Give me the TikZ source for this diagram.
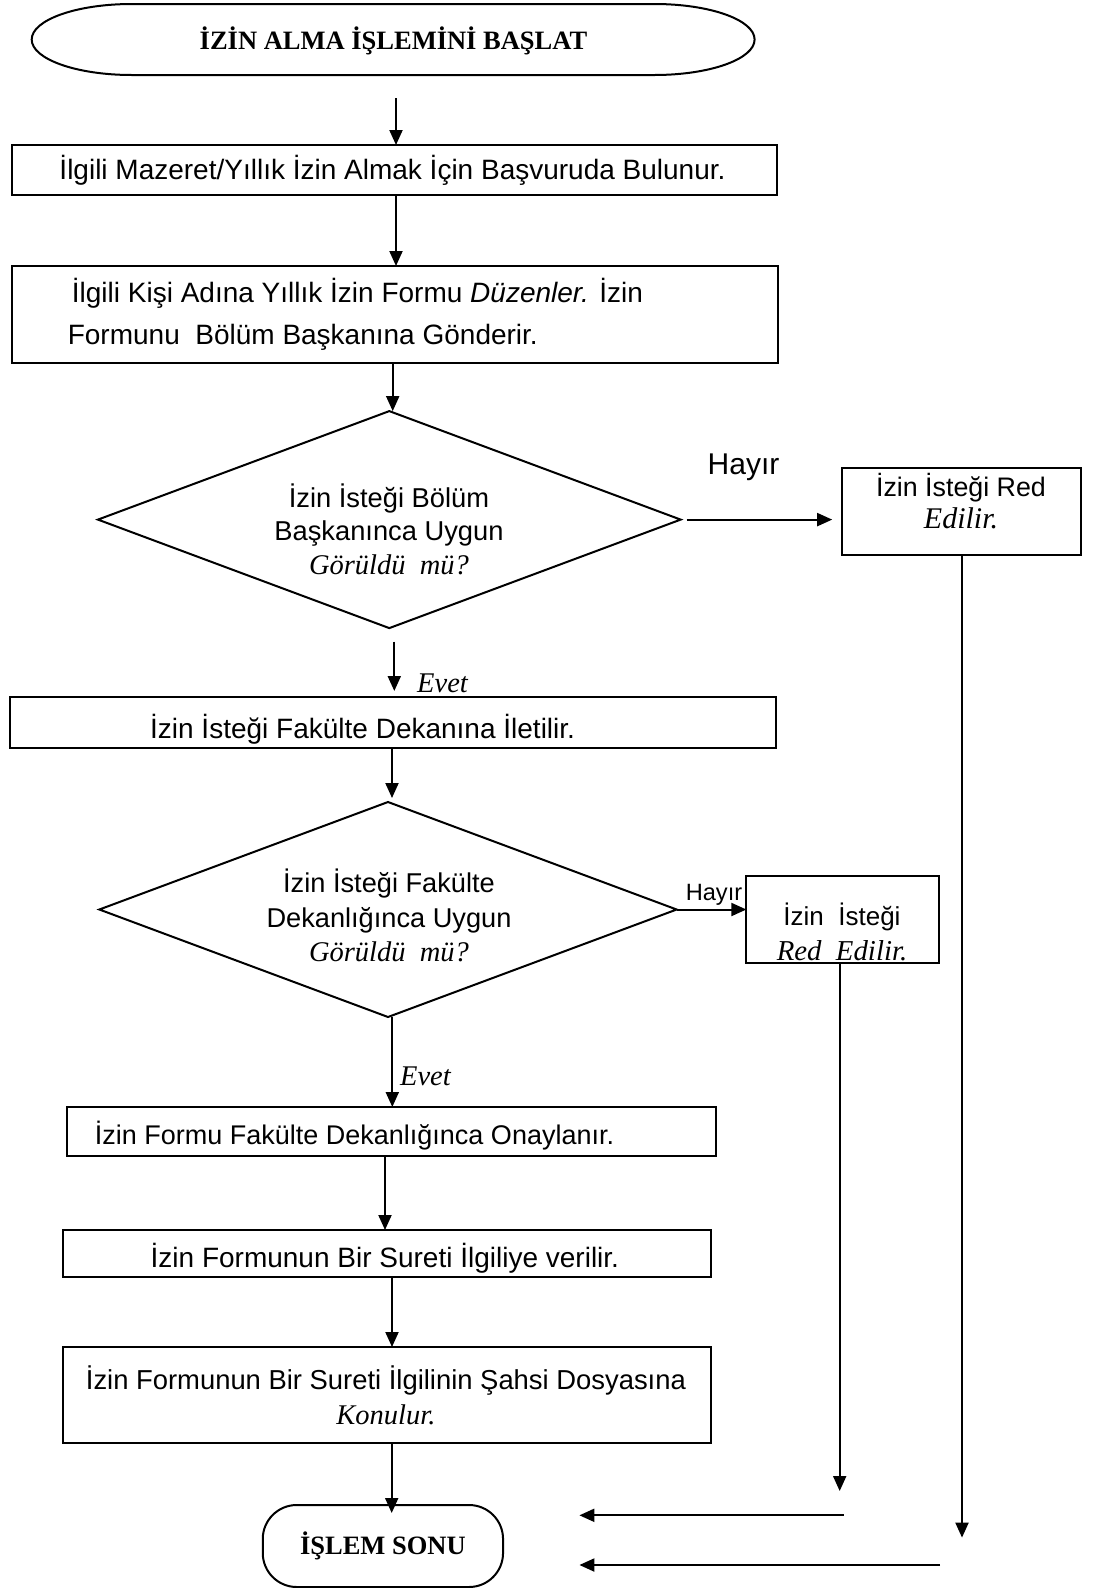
\documentclass[tikz,border=0pt]{standalone}
\usepackage{fontspec}
\setmainfont{Liberation Serif}
\newfontfamily\arialfont{Liberation Sans}
\usetikzlibrary{arrows.meta,shapes.geometric}
\newcommand\sansbody{\arialfont\fontsize{28}{34}\selectfont}
\newcommand\itserif{\rmfamily\itshape\fontsize{28.5}{34}\selectfont}
\newcommand\flowtitlefont{\rmfamily\bfseries\fontsize{26.5}{30}\selectfont}
\begin{document}
\begin{tikzpicture}[x=1pt,y=-1pt,line width=2pt,
  stepbox/.style={draw,rectangle,inner sep=0pt,outer sep=0pt},
  decision/.style={draw,diamond,inner sep=0pt,outer sep=0pt},
  sanstext/.style={inner sep=0pt,align=center,font=\sansbody},
  serifit/.style={inner sep=0pt,font=\itserif},
  titletext/.style={inner sep=0pt,font=\flowtitlefont},
  flow/.style={-{Triangle[length=15pt,width=13pt]}}]
\fill[white] (0,0) rectangle (1096,1588);
\useasboundingbox (0,0) rectangle (1096,1588);

% start terminal
\draw (131.7,4) -- (654.6,4)
  .. controls (709.8,4) and (754.6,19.9) .. (754.6,39.5)
  .. controls (754.6,59.1) and (709.8,75) .. (654.6,75)
  -- (131.7,75)
  .. controls (76.5,75) and (31.7,59.1) .. (31.7,39.5)
  .. controls (31.7,19.9) and (76.5,4) .. cycle;
\node[titletext,minimum width=723,minimum height=71] (start) at (393.5,40.5) {İZİN ALMA İŞLEMİNİ BAŞLAT};

% main column
\node[stepbox,minimum width=765,minimum height=49.5] (b1) at (394.5,169.75) {};
\node[sanstext] (b1t) at (392.5,170) {İlgili Mazeret/Yıllık İzin Almak İçin Başvuruda Bulunur.};

\node[stepbox,minimum width=766,minimum height=96.6] (b2) at (395,314.3) {};
\node[sanstext,anchor=west] (b2a) at (70.9,293.7) {İlgili Kişi Adına Yıllık İzin Formu {\itshape Düzenler.} İzin};
\node[sanstext,anchor=west] (b2b) at (66.8,337.3) {Formunu\ \ Bölüm Başkanına Gönderir.};

\node[decision,minimum width=582.7,minimum height=217] (d1) at (389.3,519.6) {};
\node[sanstext,font=\arialfont\fontsize{27.3}{33.5}\selectfont] (d1t) at (389,529) {İzin İsteği Bölüm\\Başkanınca Uygun\\{\itserif Görüldü~~mü?}};

\node[sanstext,font=\arialfont\fontsize{30}{36}\selectfont] (no1) at (743.5,467) {Hayır};
\node[stepbox,minimum width=239,minimum height=87.3] (r1) at (961.7,511.35) {};
\node[sanstext,font=\arialfont\fontsize{26.8}{32}\selectfont] (r1t) at (961,501) {İzin İsteği Red\\{\rmfamily\itshape\fontsize{30}{32}\selectfont Edilir.}};

\node[serifit] (ev1) at (442.5,683) {Evet};
\node[stepbox,minimum width=766,minimum height=50.5] (b3) at (393,722.25) {};
\node[sanstext] (b3t) at (362.6,729) {İzin İsteği Fakülte Dekanına İletilir.};

\node[decision,minimum width=577.3,minimum height=215] (d2) at (388,909.5) {};
\node[sanstext,font=\arialfont\fontsize{27.2}{34.4}\selectfont] (d2t) at (389,915.5) {İzin İsteği Fakülte\\Dekanlığınca Uygun\\{\itserif Görüldü~~mü?}};

\node[sanstext,font=\arialfont\fontsize{23.6}{28}\selectfont] (no2) at (714,895) {Hayır};
\node[stepbox,minimum width=192.5,minimum height=87.3] (r2) at (842.6,919.5) {};
\node[sanstext,font=\arialfont\fontsize{26}{35.5}\selectfont] (r2t) at (842,932) {İzin\ \ İsteği\\{\rmfamily\itshape\fontsize{28.8}{35.5}\selectfont Red\ \ Edilir.}};

\node[serifit] (ev2) at (425.4,1076.7) {Evet};
\node[stepbox,minimum width=649.2,minimum height=48.7] (b4) at (391.4,1131.35) {};
\node[sanstext,font=\arialfont\fontsize{27}{34}\selectfont] (b4t) at (354.5,1135.5) {İzin Formu Fakülte Dekanlığınca Onaylanır.};

\node[stepbox,minimum width=648.2,minimum height=46.6] (b5) at (386.9,1253.3) {};
\node[sanstext] (b5t) at (384.9,1258) {İzin Formunun Bir Sureti İlgiliye verilir.};

\node[stepbox,minimum width=648.2,minimum height=96.4] (b6) at (386.9,1395.2) {};
\node[sanstext,font=\arialfont\fontsize{27.4}{35.5}\selectfont] (b6t) at (385.9,1395.5) {İzin Formunun Bir Sureti İlgilinin Şahsi Dosyasına\\{\itserif Konulur.}};

\node[draw,rounded corners=34pt,minimum width=240.3,minimum height=82,outer sep=0pt,titletext] (stop) at (382.9,1546) {İŞLEM SONU};

% connector columns and free ends
\coordinate (s1) at (396,98);
\coordinate (c3) at (392.7,0);
\coordinate (e1s) at (394.3,641.7);
\coordinate (c5) at (392,0);
\coordinate (c6) at (392.3,0);
\coordinate (c7) at (385,0);
\coordinate (c8) at (392,0);
\coordinate (c9) at (391.7,0);
\coordinate (r1end) at (962,1537.6);
\coordinate (r2end) at (839.7,1491);
\coordinate (h1a) at (843.7,1515.3);
\coordinate (h1b) at (579.4,1515.3);
\coordinate (h2a) at (940,1565);
\coordinate (h2b) at (579.4,1565);

% connectors
\draw[flow] (s1) -- (s1 |- b1.north);
\draw[flow] (b1.south -| s1) -- (b2.north -| s1);
\draw[flow] (b2.south -| c3) -- (d1.north -| c3);
\draw[flow] ([xshift=6pt]d1.east) -- ([xshift=-10pt]d1.east -| r1.west);
\draw[flow] (e1s) -- ([yshift=6pt]b3.north -| e1s);
\draw[flow] (b3.south -| c5) -- ([yshift=4pt]d2.north -| c5);
\draw[flow] (d2.east) -- (d2.east -| r2.west);
\draw[flow] (d2.south -| c6) -- (b4.north -| c6);
\draw[flow] (b4.south -| c7) -- (b5.north -| c7);
\draw[flow] (b5.south -| c8) -- (b6.north -| c8);
\draw[flow] (b6.south -| c9) -- ([yshift=-8pt]stop.north -| c9);
\draw[flow] (r1.south -| r1end) -- (r1end);
\draw[flow] (r2.south -| r2end) -- (r2end);
\draw[flow] (h1a) -- (h1b);
\draw[flow] (h2a) -- (h2b);
\end{tikzpicture}
\end{document}
